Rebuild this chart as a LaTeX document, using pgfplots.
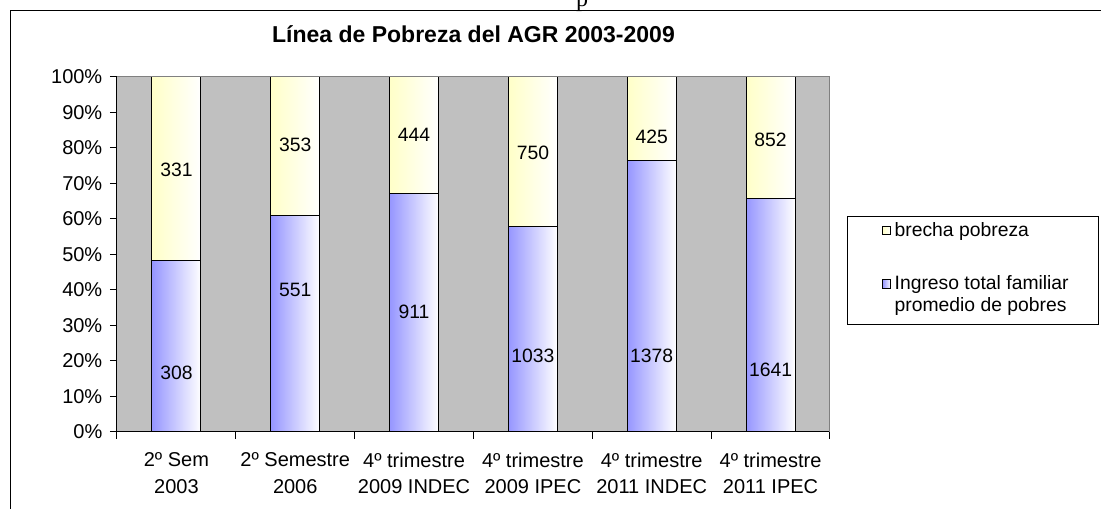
\documentclass[border=0pt]{standalone}
\usepackage{pgfplots}
\pgfplotsset{compat=1.18}
\usepackage{fontspec}
\setmainfont{Liberation Sans}
\newfontfamily\seriffont{Liberation Serif}
\definecolor{plotgray}{RGB}{192,192,192}
\definecolor{barblue}{RGB}{150,150,255}
\definecolor{baryellow}{RGB}{255,255,200}
\definecolor{bordergray}{RGB}{128,128,128}
\pgfplotsset{
  barbase/.style={ybar, bar width=36.75pt, bar shift=0pt, draw=black, line width=0.75pt},
  yellowbar/.style={barbase, left color=baryellow, right color=white,
    legend image code/.code={\path (-4pt,0pt);\draw[left color=baryellow, right color=white, draw=black, line width=0.6pt] (0pt,1.4pt) rectangle (6.2pt,7.6pt);}},
  bluebar/.style={barbase, left color=barblue, right color=white,
    legend image code/.code={\path (-4pt,-21pt);\draw[left color=barblue, right color=white, draw=black, line width=0.6pt] (0pt,1.4pt) rectangle (6.2pt,7.6pt);}},
}
\begin{document}
\begin{tikzpicture}
\useasboundingbox (0,0) rectangle (825.75pt,381.75pt);
\node[font=\seriffont\fontsize{18}{21}\selectfont, anchor=base, inner sep=0pt] at (436.5pt,376.5pt) {p};
\draw[line width=0.75pt] (7.5pt,-2pt) -- (7.5pt,373.5pt) -- (830pt,373.5pt);
\begin{axis}[
  at={(87.75pt,57.75pt)}, anchor=south west,
  scale only axis, width=534.75pt, height=266.25pt,
  xmin=-0.5, xmax=5.5, ymin=0, ymax=100,
  axis background/.style={fill=plotgray},
  axis x line*=bottom, axis y line*=left,
  axis line style={line width=0.75pt, black},
  xtick={0,...,5},
  xticklabels={{2º Sem\\2003},{2º Semestre\\2006},{4º trimestre\\2009 INDEC},{4º trimestre\\2009 IPEC},{4º trimestre\\2011 INDEC},{4º trimestre\\2011 IPEC}},
  x tick label style={align=center, font=\fontsize{15}{20}\selectfont, yshift=-6.75pt},
  major x tick style={draw=none},
  minor xtick={-0.5,0.5,...,5.5},
  minor x tick style={draw=black, line width=0.75pt},
  ytick={0,10,...,100},
  yticklabel={\pgfmathprintnumber{\tick}\%},
  y tick label style={font=\fontsize{15}{17}\selectfont, xshift=-2.25pt},
  /pgf/number format/assume math mode=true,
  y tick style={draw=black, line width=0.75pt},
  tick align=outside, major tick length=5.25pt, minor tick length=5.25pt,
  title={Línea de Pobreza del AGR 2003-2009},
  title style={at={(0.5,1)}, anchor=base, yshift=19.5pt, inner sep=0pt, font=\bfseries\fontsize{17.25}{20}\selectfont},
  legend cell align=left,
  legend style={at={(1.0238,0.6093)}, anchor=north west, draw=black, line width=0.75pt, fill=white,
    font=\fontsize{14.5}{16}\selectfont, inner xsep=22pt, inner ysep=4.6pt,
    row sep=27.5pt, column sep=2.5pt, nodes={inner sep=0pt}, cells={anchor=base west}},
]
% brecha pobreza: top segment of each 100% column (drawn full height, covered by the lower segment)
\addplot[yellowbar] coordinates {(0,100)};
\addlegendentry{brecha pobreza}
\addplot[yellowbar, forget plot] coordinates {(1,100)};
\addplot[yellowbar, forget plot] coordinates {(2,100)};
\addplot[yellowbar, forget plot] coordinates {(3,100)};
\addplot[yellowbar, forget plot] coordinates {(4,100)};
\addplot[yellowbar, forget plot] coordinates {(5,100)};
% Ingreso total familiar promedio de pobres: share of the line (%)
\addplot[bluebar] coordinates {(0,48.20)};
\addlegendentry{\begin{tabular}[t]{@{}l@{}}Ingreso total familiar\\promedio de pobres\end{tabular}}
\addplot[bluebar, forget plot] coordinates {(1,60.95)};
\addplot[bluebar, forget plot] coordinates {(2,67.23)};
\addplot[bluebar, forget plot] coordinates {(3,57.94)};
\addplot[bluebar, forget plot] coordinates {(4,76.43)};
\addplot[bluebar, forget plot] coordinates {(5,65.82)};
\draw[bordergray, line width=0.75pt] (rel axis cs:1,0) -- (rel axis cs:1,1) -- (rel axis cs:0,1);
\end{axis}
\begin{axis}[
  at={(87.75pt,57.75pt)}, anchor=south west,
  scale only axis, width=534.75pt, height=266.25pt,
  xmin=-0.5, xmax=5.5, ymin=0, ymax=100, hide axis, clip=false]
\addplot[draw=none, mark=none, nodes near coords, point meta=explicit symbolic,
  nodes near coords align={center},
  every node near coord/.append style={anchor=center, font=\fontsize{14.5}{17}\selectfont}]
  table[meta=label] {
x y label
0 73.80 331
1 80.85 353
2 83.66 444
3 78.59 750
4 83.10 425
5 82.25 852
0 16.62 308
1 40.00 551
2 33.80 911
3 21.40 1033
4 21.40 1378
5 17.46 1641
};
\end{axis}
\end{tikzpicture}
\end{document}
